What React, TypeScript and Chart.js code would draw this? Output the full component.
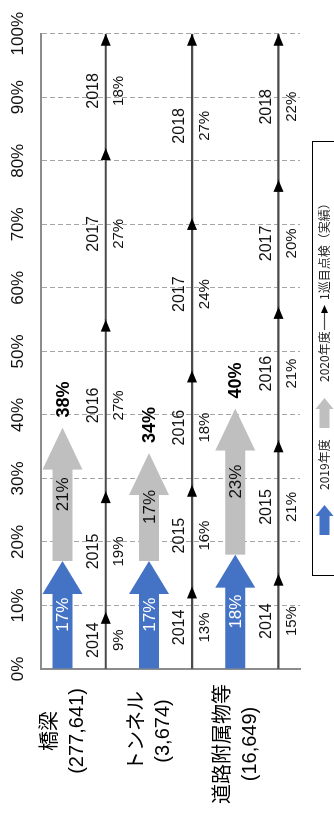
import React, { useEffect, useRef } from "react";
import { Chart, registerables } from "chart.js";

Chart.register(...registerables);

// ---- data ----
const categories = ["橋梁", "トンネル", "道路附属物等"];
const facilityCounts = ["(277,641)", "(3,674)", "(16,649)"];

const share2019 = [17, 17, 18];
const share2020 = [21, 17, 23];
const total2020 = [38, 34, 40];

const inspectionYears = ["2014", "2015", "2016", "2017", "2018"];
const firstRound2014 = [9, 13, 15];
const firstRound2015 = [19, 16, 21];
const firstRound2016 = [27, 18, 21];
const firstRound2017 = [27, 24, 20];
const firstRound2018 = [18, 27, 22];
// cumulative position reached at the end of each year (arrowheads)
const reachEnd2014 = [9, 13, 15];
const reachEnd2015 = [28, 29, 36];
const reachEnd2016 = [55, 47, 57];
const reachEnd2017 = [82, 71, 77];
const reachEnd2018 = [100, 100, 100];

const axisTicks = [0, 10, 20, 30, 40, 50, 60, 70, 80, 90, 100];
const legendLabels = ["2019年度", "2020年度", "1巡目点検（実績）"];

// ---- styles ----
const BLUE = "#4472C4";
const GRAY = "#BFBFBF";
const LINE = "#4a4a4a";
const FONT = '"Liberation Sans", Arial, sans-serif';
const JFONT = '"Noto Sans CJK JP", "Liberation Sans", sans-serif';

const W = 820;
const H = 334;

const yearShares = [firstRound2014, firstRound2015, firstRound2016, firstRound2017, firstRound2018];
const yearEnds = [reachEnd2014, reachEnd2015, reachEnd2016, reachEnd2017, reachEnd2018];

const drawPlugin = {
  id: "customDraw",
  beforeDraw(chart: any) {
    const ctx = chart.ctx;
    ctx.save();
    ctx.fillStyle = "#ffffff";
    ctx.fillRect(0, 0, chart.width, chart.height);
    ctx.restore();
  },
  afterDatasetsDraw(chart: any) {
    const ctx: CanvasRenderingContext2D = chart.ctx;
    const ds = chart.data.datasets;
    ctx.save();

    // big arrows (2019 / 2020)
    ds.forEach((d: any, di: number) => {
      if (d.kind !== "arrow") return;
      const meta = chart.getDatasetMeta(di);
      meta.data.forEach((el: any, i: number) => {
        const { x, y, base, height } = el.getProps(["x", "y", "base", "height"], true);
        const sh = height / 2;
        const hh = height;
        const hl = d.headLen;
        ctx.fillStyle = d.arrowColor;
        ctx.beginPath();
        ctx.moveTo(base, y - sh);
        ctx.lineTo(x - hl, y - sh);
        ctx.lineTo(x - hl, y - hh);
        ctx.lineTo(x, y);
        ctx.lineTo(x - hl, y + hh);
        ctx.lineTo(x - hl, y + sh);
        ctx.lineTo(base, y + sh);
        ctx.closePath();
        ctx.fill();
        // value label
        ctx.fillStyle = d.textColor;
        ctx.font = `17px ${FONT}`;
        ctx.textAlign = "center";
        ctx.textBaseline = "middle";
        ctx.fillText(d.valueLabels[i] + "%", (base + x) / 2, y + 1);
        if (d.totals) {
          ctx.fillStyle = "#000";
          ctx.font = `bold 18px ${FONT}`;
          ctx.textAlign = "left";
          ctx.fillText(d.totals[i] + "%", x + 10, y + 1);
        }
      });
    });

    // thin year arrows
    ds.forEach((d: any, di: number) => {
      if (d.kind !== "line") return;
      const meta = chart.getDatasetMeta(di);
      meta.data.forEach((el: any, i: number) => {
        const { x, y, base } = el.getProps(["x", "y", "base"], true);
        ctx.fillStyle = "#000";
        ctx.beginPath();
        ctx.moveTo(x, y);
        ctx.lineTo(x - 12, y - 5);
        ctx.lineTo(x - 12, y + 5);
        ctx.closePath();
        ctx.fill();
        const mid = (base + x) / 2;
        ctx.textAlign = "center";
        ctx.textBaseline = "middle";
        ctx.fillStyle = "#111";
        ctx.font = `16px ${FONT}`;
        ctx.fillText(d.label, mid, y - 12);
        ctx.font = `15px ${FONT}`;
        ctx.fillText(d.shareLabels[i] + "%", mid, y + 13);
      });
    });

    // category labels (left side)
    const arrowMeta = chart.getDatasetMeta(0);
    arrowMeta.data.forEach((el: any, i: number) => {
      const { y } = el.getProps(["y"], true);
      ctx.font = `20px ${JFONT}`;
      const w1 = ctx.measureText(categories[i]).width;
      ctx.font = `20px ${FONT}`;
      const w2 = ctx.measureText(facilityCounts[i]).width;
      const cx = Math.min(89, chart.chartArea.left - 15 - Math.max(w1, w2) / 2);
      ctx.fillStyle = "#000";
      ctx.textAlign = "center";
      ctx.textBaseline = "middle";
      ctx.font = `20px ${JFONT}`;
      ctx.fillText(categories[i], cx, y - 14);
      ctx.font = `20px ${FONT}`;
      ctx.fillText(facilityCounts[i], cx, y + 15);
    });

    // legend
    const box = { left: 244, right: 678, top: 312, bottom: 337 };
    ctx.strokeStyle = "#000";
    ctx.lineWidth = 1;
    ctx.strokeRect(box.left + 0.5, box.top + 0.5, box.right - box.left, box.bottom - box.top);
    const ly = (box.top + box.bottom) / 2;
    const iconStarts = [285, 392, 490];
    const textStarts = [330, 438, 520];
    const iconColors = [BLUE, GRAY];
    for (let k = 0; k < 2; k++) {
      const x0 = iconStarts[k];
      const x1 = x0 + 30;
      ctx.fillStyle = iconColors[k];
      ctx.beginPath();
      ctx.moveTo(x0, ly - 5);
      ctx.lineTo(x1 - 11, ly - 5);
      ctx.lineTo(x1 - 11, ly - 9);
      ctx.lineTo(x1, ly);
      ctx.lineTo(x1 - 11, ly + 9);
      ctx.lineTo(x1 - 11, ly + 5);
      ctx.lineTo(x0, ly + 5);
      ctx.closePath();
      ctx.fill();
    }
    {
      const x0 = iconStarts[2];
      const x1 = x0 + 25;
      ctx.strokeStyle = LINE;
      ctx.lineWidth = 1.2;
      ctx.beginPath();
      ctx.moveTo(x0, ly);
      ctx.lineTo(x1 - 6, ly);
      ctx.stroke();
      ctx.fillStyle = "#000";
      ctx.beginPath();
      ctx.moveTo(x1, ly);
      ctx.lineTo(x1 - 8, ly - 3.5);
      ctx.lineTo(x1 - 8, ly + 3.5);
      ctx.closePath();
      ctx.fill();
    }
    ctx.fillStyle = "#222";
    ctx.font = `12px ${JFONT}`;
    ctx.textAlign = "left";
    ctx.textBaseline = "middle";
    legendLabels.forEach((t, k) => ctx.fillText(t, textStarts[k], ly));

    ctx.restore();
  },
};

export default function App() {
  const ref = useRef<HTMLCanvasElement | null>(null);

  useEffect(() => {
    const canvas = ref.current;
    if (!canvas) return;

    const yearDatasets = inspectionYears.map((yr, k) => ({
      label: yr,
      kind: "line",
      data: yearEnds[k].map((e, i) => [k === 0 ? 0 : yearEnds[k - 1][i], e]),
      shareLabels: yearShares[k],
      stack: "line",
      backgroundColor: LINE,
      maxBarThickness: 1.5,
    }));

    const chart = new Chart(canvas, {
      type: "bar",
      data: {
        labels: categories,
        datasets: [
          {
            label: legendLabels[0],
            kind: "arrow",
            data: share2019.map((v) => [0, v]),
            valueLabels: share2019,
            arrowColor: BLUE,
            textColor: "#ffffff",
            headLen: 33,
            stack: "arrow",
            backgroundColor: "rgba(0,0,0,0)",
            maxBarThickness: 20,
          },
          {
            label: legendLabels[1],
            kind: "arrow",
            data: share2019.map((v, i) => [v, v + share2020[i]]),
            valueLabels: share2020,
            totals: total2020,
            arrowColor: GRAY,
            textColor: "#111111",
            headLen: 42,
            stack: "arrow",
            backgroundColor: "rgba(0,0,0,0)",
            maxBarThickness: 20,
          },
          ...yearDatasets,
        ] as any,
      },
      options: {
        indexAxis: "y",
        animation: false,
        responsive: false,
        maintainAspectRatio: false,
        devicePixelRatio: 1,
        events: [],
        layout: { padding: { left: 0, top: 0, right: 25, bottom: 34 } },
        datasets: { bar: { categoryPercentage: 1, barPercentage: 1 } },
        scales: {
          x: {
            type: "linear",
            position: "top",
            min: 0,
            max: 100,
            stacked: false,
            afterBuildTicks: (scale: any) => {
              scale.ticks = axisTicks.map((v) => ({ value: v }));
            },
            afterFit: (scale: any) => {
              scale.height = 41;
            },
            ticks: {
              callback: (v: any) => v + "%",
              font: { family: FONT, size: 17 },
              color: "#111",
              padding: 12,
              maxRotation: 0,
              autoSkip: false,
            },
            grid: {
              color: (c: any) => (c.tick && c.tick.value === 0 ? "rgba(0,0,0,0)" : "#a6a6a6"),
              lineWidth: 1,
              drawTicks: false,
            },
            border: { display: true, color: "#8c8c8c", width: 2, dash: [5, 3] },
          },
          y: {
            type: "category",
            afterFit: (scale: any) => {
              scale.width = 151;
            },
            ticks: { display: false },
            grid: { display: false, drawTicks: false },
            border: { display: true, color: "#8c8c8c", width: 2 },
          },
        },
        plugins: {
          legend: { display: false },
          tooltip: { enabled: false },
          title: { display: false },
        },
      } as any,
      plugins: [drawPlugin],
    });

    return () => chart.destroy();
  }, []);

  return (
    <div
      style={{
        position: "fixed",
        left: 0,
        top: 0,
        width: W,
        height: H,
        transformOrigin: "0 0",
        transform: `translateY(${W}px) rotate(-90deg)`,
        background: "#fff",
      }}
    >
      <canvas ref={ref} width={W} height={H} style={{ display: "block", width: W, height: H }} />
    </div>
  );
}
